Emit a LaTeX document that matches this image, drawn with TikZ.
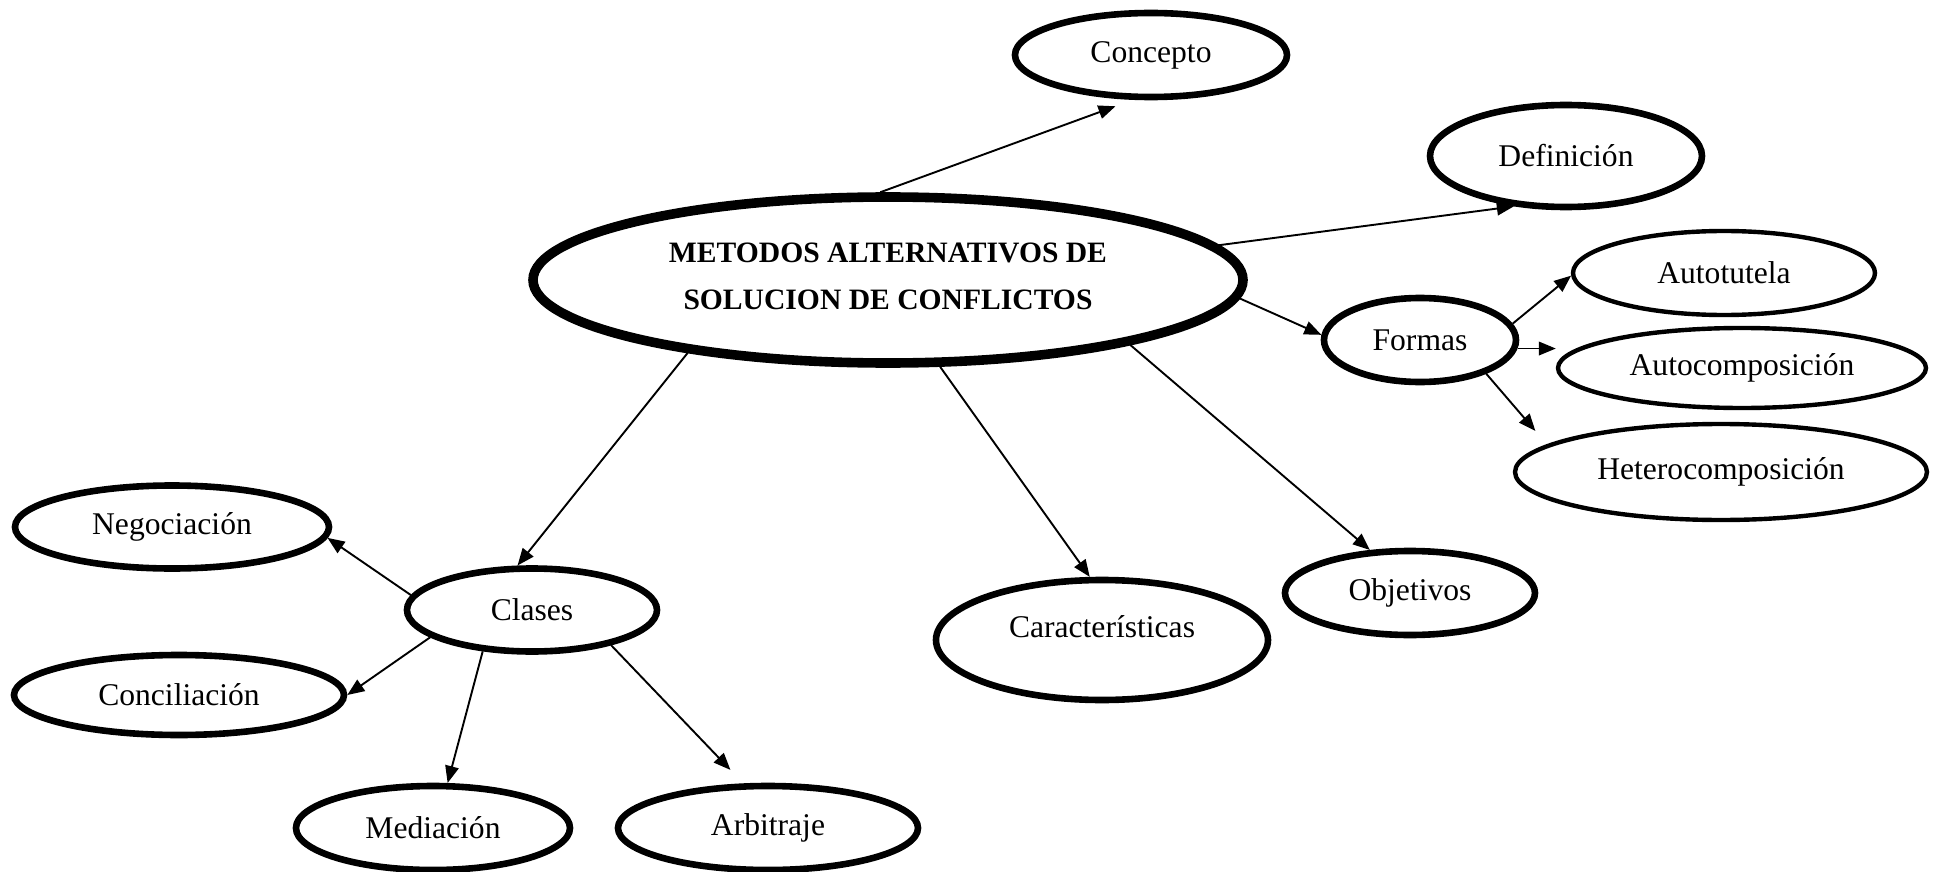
\documentclass[tikz,border=0pt]{standalone}
\usepackage{fontspec}
\setmainfont{Liberation Serif}
\usetikzlibrary{shapes.geometric,arrows.meta}
\begin{document}
\begin{tikzpicture}[x=0.5pt,y=-0.5pt,
  oval/.style={ellipse,draw,line width=3.3pt,inner sep=0pt,font=\fontsize{15.8}{19}\selectfont},
  thinoval/.style={oval,line width=2.2pt},
  conn/.style={line width=0.95pt,-{Triangle[length=8.5pt,width=6.8pt]}},
  lbl/.style={inner sep=0pt,align=center}]
\useasboundingbox (0,0) rectangle (1940,872);
% nodes
\node[oval,line width=4.8pt,minimum width=355pt,minimum height=83pt] (main) at (888,280) {};
\node[lbl,font=\bfseries\fontsize{14.8}{23.5}\selectfont] (maintext) at (888,276) {METODOS ALTERNATIVOS DE\\SOLUCION DE CONFLICTOS};
\node[oval,minimum width=136pt,minimum height=42pt] (concepto) at (1151,55) {Concepto};
\node[oval,minimum width=136pt,minimum height=51pt] (definicion) at (1566,156) {Definición};
\node[oval,minimum width=96pt,minimum height=42pt] (formas) at (1420,340) {Formas};
\node[thinoval,minimum width=151pt,minimum height=42pt] (autotutela) at (1724,273) {Autotutela};
\node[thinoval,minimum width=184pt,minimum height=40pt] (autocomp) at (1742,368) {Autocomposición};
\node[thinoval,minimum width=206pt,minimum height=48pt] (hetero) at (1721,472) {Heterocomposición};
\node[oval,minimum width=157pt,minimum height=41.5pt] (negociacion) at (172,527) {Negociación};
\node[oval,minimum width=125pt,minimum height=41.5pt] (clases) at (532,610) {Clases};
\node[oval,minimum width=165pt,minimum height=40pt] (conciliacion) at (179,695) {Conciliación};
\node[oval,minimum width=137pt,minimum height=42pt] (mediacion) at (433,828) {Mediación};
\node[oval,minimum width=150pt,minimum height=42pt] (arbitraje) at (768,828) {Arbitraje};
\node[oval,minimum width=166pt,minimum height=60pt] (caract) at (1102,640) {};
\node[lbl,font=\fontsize{15.8}{19}\selectfont] (caracttext) at (1102,627) {Características};
\node[oval,minimum width=125pt,minimum height=42pt] (objetivos) at (1410,593) {Objetivos};
% connectors
\draw[conn,shorten >=9.25pt] (main.95) -- (concepto.248);
\draw[conn] (main.6) -- (definicion.224);
\draw[conn] (main.357) -- (formas.177);
\draw[conn] (main.200) -- (clases.108);
\draw[conn] (main.301) -- (caract.101);
\draw[conn] (main.345) -- (objetivos.133);
\draw[conn] (formas.10) -- (autotutela.181);
\draw[conn] (formas.355) -- (formas.355 -| autocomp.west);
\draw[conn,shorten >=8.9pt] (formas.333) -- (hetero.171);
\draw[conn] (clases.173) -- (negociacion.356);
\draw[conn] (clases.195) -- (conciliacion.0);
\draw[conn] (clases.220) -- (mediacion.72);
\draw[conn,shorten >=9.25pt] (clases.336) -- (arbitraje.119);
\end{tikzpicture}
\end{document}
